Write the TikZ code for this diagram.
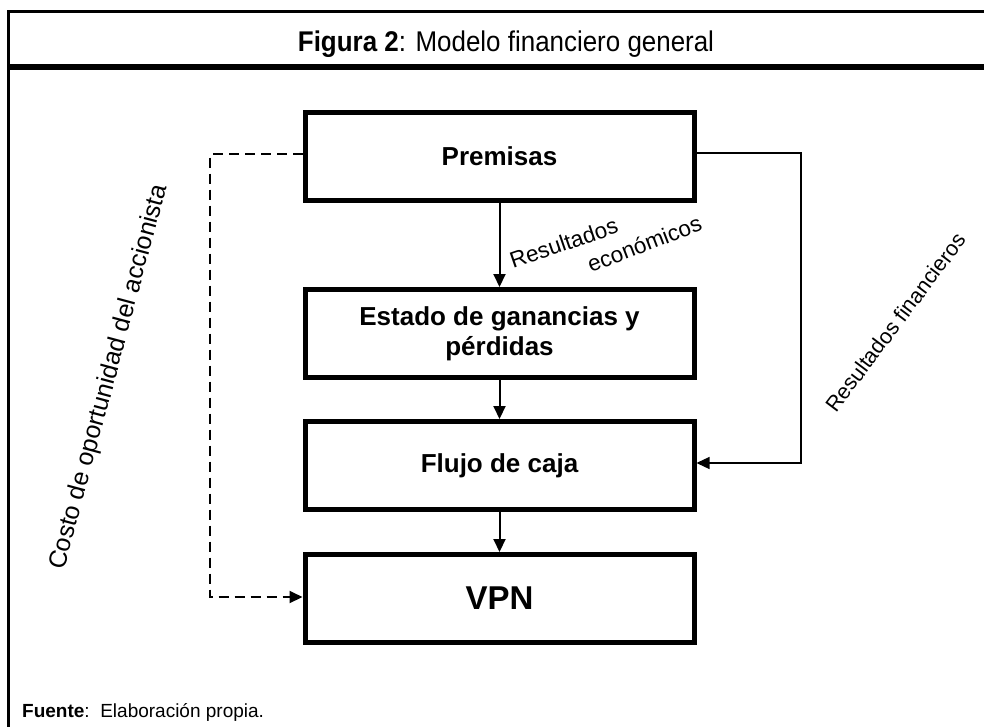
\documentclass[tikz,border=0pt]{standalone}
\usepackage{fontspec}
\setmainfont{Liberation Sans}
\usetikzlibrary{arrows.meta}
\begin{document}
\begin{tikzpicture}[x=1pt,y=-1pt,
  box/.style={draw, line width=5pt, minimum width=389pt, minimum height=88pt,
    inner sep=0pt, align=center, font=\fontsize{26}{30}\selectfont\bfseries},
  conn/.style={line width=2pt, -{Triangle[length=13pt,width=12pt]}},
  thinconn/.style={line width=1.3pt, -{Triangle[length=13pt,width=12pt]}},
  dashconn/.style={line width=2pt, dash pattern=on 10pt off 6pt, -{Triangle[length=13pt,width=12pt]}},
  lbl/.style={inner sep=0pt, anchor=base west}
]
\useasboundingbox (0,0) rectangle (984,726);
\clip (0,0) rectangle (984,726);
% frame
\draw[line width=3pt] (8.5,740) -- (8.5,11.5) -- (1000,11.5);
\draw[line width=6pt] (7,66.5) -- (1000,66.5);
% title
\node[inner sep=0pt, anchor=base, font=\fontsize{28.5}{32}\selectfont] (title) at (506,51)
  {\scalebox{0.91}[1]{\textbf{Figura 2}: Modelo financiero general}};
% boxes
\node[box] (prem) at (499.5,156) {Premisas};
\node[box] (est) at (499.5,333.5) {Estado de ganancias y\\pérdidas};
\node[box] (flujo) at (499.5,465.5) {Flujo de caja};
\node[box, font=\fontsize{33}{38}\selectfont\bfseries] (vpn) at (499.5,598.5) {VPN};
% vertical arrows
\draw[conn] (prem.south) -- (est.north);
\draw[conn] (est.south) -- (flujo.north);
\draw[conn] (flujo.south) -- (vpn.north);
% right connector
\coordinate (r1) at (801,153);
\coordinate (r2) at (801,463);
\draw[thinconn] (prem.east |- r1) -- (r1) -- (r2) -- (flujo.east |- r2);
% dashed connector
\coordinate (d1) at (210,154);
\coordinate (d2) at (210,597);
\draw[dashconn] (prem.west |- d1) -- (d1) -- (d2) -- (vpn.west |- d2);
% labels
\node[lbl, rotate=19, font=\fontsize{22.5}{24}\selectfont] (re1) at (513,269) {Resultados};
\node[lbl, rotate=21, font=\fontsize{22.5}{24}\selectfont] (re2) at (591,273) {económicos};
\node[lbl, rotate=53, font=\fontsize{21.5}{24}\selectfont] (rf) at (836,414) {Resultados financieros};
\node[lbl, rotate=75, font=\fontsize{25}{28}\selectfont] (costo) at (64,571) {Costo de oportunidad del accionista};
% source
\node[lbl, font=\fontsize{19}{21}\selectfont] (fuente) at (22,717) {\textbf{Fuente}:\ \ Elaboración propia.};
\end{tikzpicture}
\end{document}
